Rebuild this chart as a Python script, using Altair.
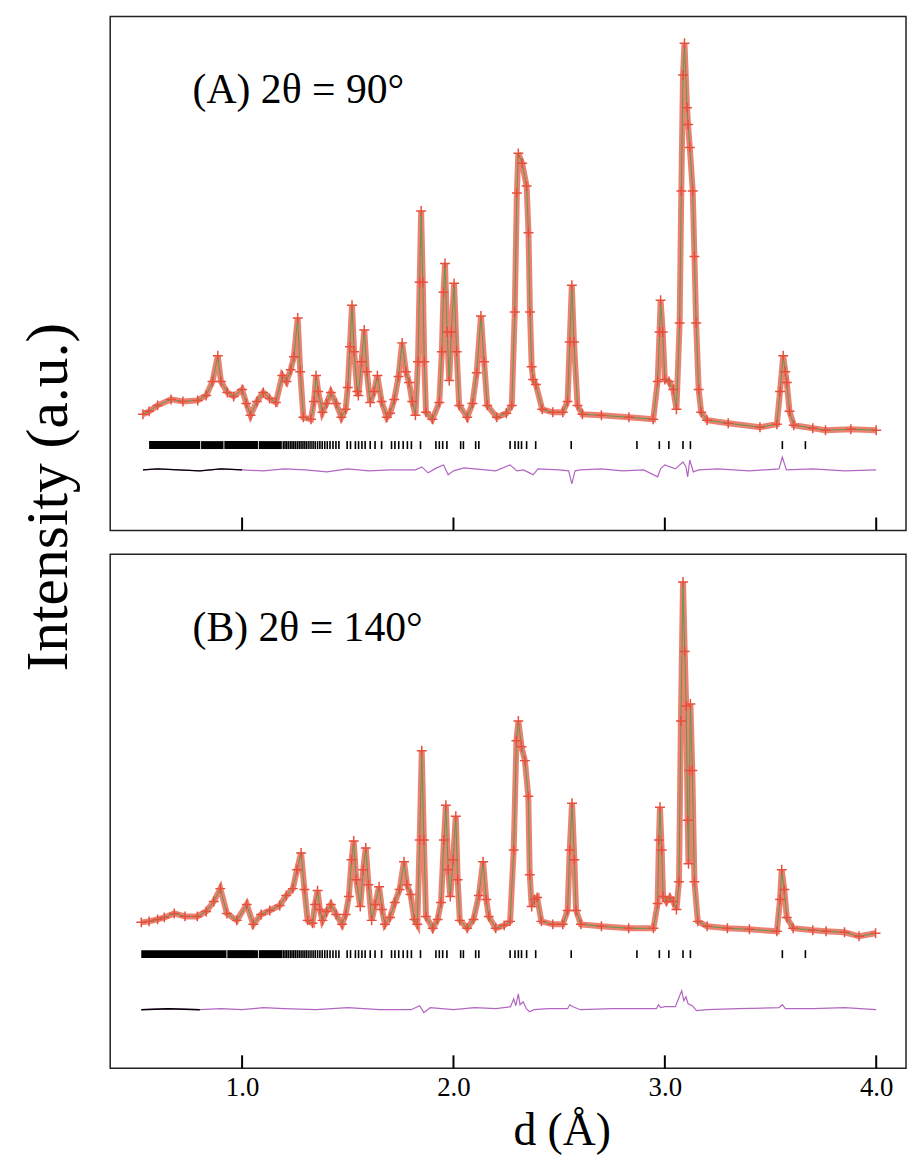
import altair as alt
import pandas as pd

# ---------------- data ----------------
# Panel A: 2theta = 90 deg  (d in Angstrom, intensity in arbitrary units)
d_a = [0.531, 0.56, 0.60, 0.664, 0.72, 0.79, 0.83, 0.86, 0.885, 0.90, 0.93, 0.96, 1.00, 1.02, 1.04,
       1.07, 1.10, 1.13, 1.16, 1.19, 1.21, 1.23, 1.245, 1.263, 1.275, 1.29, 1.326, 1.34, 1.35, 1.36,
       1.38, 1.40, 1.42, 1.445, 1.47, 1.49, 1.50, 1.51, 1.52, 1.53, 1.545, 1.55, 1.565, 1.578, 1.59,
       1.606, 1.625, 1.64, 1.66, 1.685, 1.70, 1.72, 1.74, 1.757, 1.775, 1.79, 1.805, 1.82, 1.832, 1.84,
       1.847, 1.855, 1.862, 1.87, 1.90, 1.933, 1.945, 1.953, 1.96, 1.97, 1.98, 1.99, 2.003, 2.015, 2.027,
       2.065, 2.09, 2.11, 2.13, 2.145, 2.16, 2.205, 2.25, 2.276, 2.29, 2.30, 2.307, 2.325, 2.346, 2.355,
       2.362, 2.37, 2.377, 2.39, 2.42, 2.47, 2.517, 2.54, 2.55, 2.56, 2.57, 2.587, 2.61, 2.70, 2.83,
       2.945, 2.966, 2.975, 2.98, 2.99, 3.00, 3.02, 3.04, 3.055, 3.07, 3.078, 3.086, 3.093, 3.105, 3.11,
       3.118, 3.132, 3.14, 3.148, 3.16, 3.172, 3.20, 3.30, 3.45, 3.53, 3.545, 3.56, 3.57, 3.577, 3.59,
       3.61, 3.70, 3.76, 3.88, 4.00]
int_a = [117, 120, 126, 132, 130, 131, 136, 150, 176, 150, 139, 135, 142, 128, 116,
         130, 139, 133, 129, 156, 150, 162, 175, 214, 160, 114, 112, 130, 156, 140,
         119, 128, 139, 128, 114, 122, 144, 185, 227, 180, 140, 136, 170, 202, 160,
         129, 140, 156, 130, 114, 118, 132, 155, 189, 160, 149, 130, 116, 170, 250,
         322, 250, 170, 119, 112, 129, 180, 240, 269, 200, 151, 200, 249, 180, 126,
         114, 128, 159, 216, 170, 126, 114, 118, 126, 220, 340, 380, 370, 347, 300,
         220, 165, 152, 147, 122, 119, 119, 130, 190, 247, 190, 126, 117, 116, 114,
         112, 150, 200, 232, 200, 152, 150, 142, 122, 209, 342, 459, 491, 426, 409,
         386, 342, 276, 209, 142, 119, 111, 108, 104, 107, 140, 176, 160, 149, 120,
         106, 103, 101, 102, 101]

# Panel B: 2theta = 140 deg
d_b = [0.523, 0.56, 0.60, 0.632, 0.679, 0.73, 0.788, 0.83, 0.866, 0.897, 0.928, 0.975, 1.022, 1.053,
       1.09, 1.131, 1.178, 1.209, 1.24, 1.26, 1.279, 1.295, 1.31, 1.333, 1.345, 1.357, 1.368, 1.38,
       1.40, 1.42, 1.445, 1.473, 1.49, 1.505, 1.518, 1.528, 1.54, 1.559, 1.573, 1.585, 1.598, 1.613,
       1.63, 1.648, 1.662, 1.676, 1.70, 1.722, 1.745, 1.766, 1.78, 1.797, 1.815, 1.829, 1.84, 1.85,
       1.86, 1.87, 1.902, 1.925, 1.941, 1.955, 1.964, 1.975, 1.985, 1.998, 2.011, 2.02, 2.03, 2.065,
       2.095, 2.12, 2.14, 2.155, 2.167, 2.20, 2.24, 2.268, 2.285, 2.298, 2.307, 2.322, 2.338, 2.354,
       2.361, 2.37, 2.383, 2.396, 2.416, 2.47, 2.517, 2.54, 2.55, 2.561, 2.572, 2.58, 2.603, 2.70,
       2.829, 2.946, 2.966, 2.972, 2.977, 2.985, 2.992, 3.008, 3.024, 3.04, 3.055, 3.067, 3.076, 3.086,
       3.094, 3.101, 3.108, 3.112, 3.117, 3.121, 3.13, 3.14, 3.156, 3.20, 3.296, 3.40, 3.53, 3.545,
       3.553, 3.565, 3.577, 3.607, 3.70, 3.763, 3.85, 3.919, 3.997]
int_b = [147, 148, 150, 152, 156, 153, 153, 158, 168, 181, 156, 149, 165, 145,
         155, 159, 164, 174, 181, 200, 217, 180, 149, 146, 165, 179, 160, 149,
         158, 165, 155, 145, 155, 173, 210, 229, 190, 163, 200, 222, 185, 149,
         165, 183, 160, 145, 152, 167, 180, 208, 185, 175, 150, 145, 230, 320,
         230, 153, 141, 150, 167, 230, 265, 200, 173, 210, 254, 190, 149, 141,
         150, 174, 208, 170, 153, 141, 144, 148, 220, 330, 350, 324, 310, 274,
         195, 163, 170, 172, 148, 145, 145, 159, 220, 267, 210, 159, 145, 143,
         141, 141, 166, 230, 263, 220, 173, 168, 172, 168, 160, 188, 350, 490,
         420, 365, 250, 206, 300, 367, 300, 188, 148, 143, 141, 140, 138, 170,
         200, 180, 152, 141, 139, 138, 137, 133, 136]

# Difference curves (obs - calc, offset)
diff_d_a = [0.531, 0.60, 0.70, 0.80, 0.90, 1.00, 1.10, 1.20, 1.30, 1.40, 1.50, 1.60, 1.70, 1.82, 1.85,
            1.88, 1.92, 1.953, 1.975, 2.00, 2.05, 2.10, 2.20, 2.268, 2.30, 2.33, 2.36, 2.377, 2.40,
            2.50, 2.545, 2.56, 2.575, 2.60, 2.70, 2.80, 2.90, 2.966, 2.98, 3.00, 3.05, 3.086, 3.10,
            3.108, 3.118, 3.135, 3.16, 3.25, 3.40, 3.54, 3.556, 3.575, 3.70, 3.85, 4.00]
diff_i_a = [61, 62, 61, 60, 62, 61, 60, 62, 61, 59, 62, 60, 61, 61, 64,
            58, 63, 66, 56, 60, 63, 62, 60, 66, 60, 61, 58, 56, 62,
            61, 60, 47, 60, 61, 62, 60, 61, 54, 62, 66, 62, 69, 64,
            54, 71, 59, 61, 62, 60, 62, 74, 61, 62, 60, 61]
diff_d_b = [0.523, 0.65, 0.80, 0.90, 1.00, 1.10, 1.20, 1.35, 1.50, 1.65, 1.80, 1.84, 1.86, 1.89, 2.00,
            2.10, 2.20, 2.27, 2.285, 2.295, 2.307, 2.315, 2.33, 2.345, 2.36, 2.38, 2.45, 2.54, 2.55,
            2.565, 2.60, 2.75, 2.96, 2.97, 2.98, 3.00, 3.05, 3.07, 3.08, 3.09, 3.10, 3.11, 3.13, 3.15,
            3.20, 3.35, 3.54, 3.556, 3.57, 3.70, 3.85, 4.00]
diff_i_b = [59, 60, 59, 60, 59, 61, 60, 59, 61, 59, 59, 63, 56, 61, 59,
            61, 60, 62, 70, 63, 75, 64, 67, 60, 57, 59, 60, 60, 64,
            62, 59, 60, 60, 64, 61, 62, 62, 73, 78, 68, 72, 65, 63, 58,
            59, 60, 61, 64, 60, 60, 61, 59]

# Reflection (Bragg) positions
refl_d = [1.195, 1.203, 1.211, 1.219, 1.228, 1.236, 1.244, 1.252, 1.261, 1.270, 1.279, 1.288, 1.297,
          1.306, 1.316, 1.326, 1.336, 1.346, 1.357, 1.368, 1.379, 1.391, 1.403, 1.416, 1.430, 1.444,
          1.458, 1.497, 1.513, 1.536, 1.551, 1.567, 1.582, 1.606, 1.629, 1.660, 1.707, 1.723, 1.741,
          1.762, 1.782, 1.801, 1.844, 1.917, 1.933, 1.949, 1.969, 2.034, 2.047, 2.105, 2.120, 2.268,
          2.291, 2.307, 2.322, 2.346, 2.389, 2.557, 2.868, 2.974, 3.019, 3.086, 3.121, 3.556, 3.665]
# densely packed reflections at short d appear as solid bars
band_a_start = [0.56, 0.806, 0.916, 1.079]
band_a_end = [0.802, 0.912, 1.075, 1.188]
band_b_start = [0.523, 0.930, 1.079]
band_b_end = [0.926, 1.075, 1.190]

x_ticks = [1.0, 2.0, 3.0, 4.0]
labels = ["(A) 2\u03b8 = 90\u00b0", "(B) 2\u03b8 = 140\u00b0"]

# ---------------- chart ----------------
SERIF = "Liberation Serif"
XDOM = [0.376, 4.141]
W, H = 802, 518
RED = "#e5503c"
GREEN = "#5e9a4e"
PURPLE = "#b266c2"


def panel(obs_d, obs_i, dd, di, black_until, bs, be, tlo, thi, label, bottom):
    obs = pd.DataFrame({"d": obs_d, "I": obs_i})
    diff = pd.DataFrame({"d": dd, "I": di})
    refl = pd.DataFrame({"d": refl_d, "lo": [tlo] * len(refl_d), "hi": [thi] * len(refl_d)})
    band = pd.DataFrame({"d": bs, "d2": be, "lo": [tlo] * len(bs), "hi": [thi] * len(bs)})
    ticks = pd.DataFrame({"d": x_ticks})
    lab = pd.DataFrame({"t": [label]})

    xs = alt.Scale(domain=XDOM, nice=False, zero=False)
    ys = alt.Scale(domain=[0, H], nice=False, zero=False)
    if bottom:
        xaxis = alt.Axis(values=x_ticks, format=".1f", ticks=False, domain=False, grid=False,
                         labelFont=SERIF, labelFontSize=27, labelColor="black", labelPadding=6,
                         title="d (\u00c5)", titleFont=SERIF, titleFontSize=46,
                         titleFontWeight="normal", titleColor="black",
                         titleX=455, titleY=77, titleBaseline="alphabetic")
        yaxis = alt.Axis(labels=False, ticks=False, domain=False, grid=False, title="")
    else:
        xaxis = alt.Axis(labels=False, ticks=False, domain=False, grid=False, title="")
        yaxis = alt.Axis(labels=False, ticks=False, domain=False, grid=False,
                         title="Intensity (a.u.)", titleFont=SERIF, titleFontSize=60,
                         titleFontWeight="normal", titleColor="black", titleAngle=270,
                         titleX=-62, titleY=484, titleAlign="center", titleBaseline="middle")

    X = alt.X("d:Q", scale=xs, axis=xaxis)
    Y = alt.Y("I:Q", scale=ys, axis=yaxis)
    Ylo = alt.Y("lo:Q", scale=ys, axis=yaxis)

    obs_band = alt.Chart(obs).mark_line(color=RED, strokeWidth=6, opacity=0.72).encode(x=X, y=Y)
    obs_pts = alt.Chart(obs).mark_point(shape="M-1,0L1,0M0,-1L0,1", filled=False, size=100,
                                        strokeWidth=1.5, color=RED, opacity=1).encode(x=X, y=Y)
    calc = alt.Chart(obs).mark_line(color=GREEN, strokeWidth=1).encode(x=X, y=Y)
    diff_line = alt.Chart(diff).mark_line(color=PURPLE, strokeWidth=1.2).encode(x=X, y=Y)
    diff_black = alt.Chart(diff).transform_filter(alt.datum.d <= black_until).mark_line(
        color="black", strokeWidth=1.4).encode(x=X, y=Y)
    refl_m = alt.Chart(refl).mark_rule(color="black", strokeWidth=1.6).encode(
        x=X, y=Ylo, y2="hi:Q")
    band_m = alt.Chart(band).mark_rect(color="black").encode(x=X, x2="d2:Q", y=Ylo, y2="hi:Q")
    tick_m = alt.Chart(ticks).mark_rule(color="black", strokeWidth=2).encode(
        x=X, y=alt.value(H), y2=alt.value(H - 13))
    text_m = alt.Chart(lab).mark_text(align="left", baseline="middle", font=SERIF, fontSize=42,
                                      color="black").encode(
        x=alt.value(83), y=alt.value(74), text="t:N")

    return alt.layer(obs_band, calc, obs_pts, refl_m, band_m, diff_line, diff_black, tick_m,
                     text_m).properties(width=W, height=H)


top = panel(d_a, int_a, diff_d_a, diff_i_a, 1.0, band_a_start, band_a_end, 82, 90, labels[0], False)
bot = panel(d_b, int_b, diff_d_b, diff_i_b, 0.8, band_b_start, band_b_end, 111, 119, labels[1], True)

chart = alt.vconcat(top, bot, spacing=24, bounds="flush").properties(
    padding={"left": 10, "top": 3, "right": 0, "bottom": 0},
    background="white"
).configure_view(stroke="#222222", strokeWidth=1.5)

chart.save("out.html", embed_options={"renderer": "svg", "actions": False})
